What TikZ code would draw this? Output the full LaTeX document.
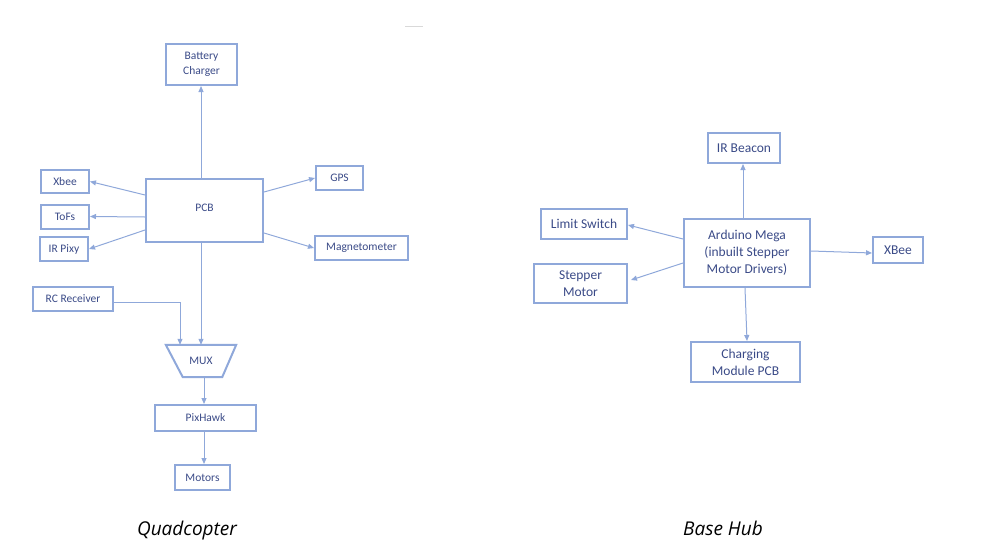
\documentclass[tikz,border=0pt]{standalone}
\usepackage{fontspec}
\setmainfont{Carlito}
\newfontfamily\capfont{Open Sans}
\usetikzlibrary{arrows.meta,calc}
\definecolor{boxc}{RGB}{143,168,218}
\definecolor{txtc}{RGB}{58,74,135}
\begin{document}
\begin{tikzpicture}[x=1pt,y=-1pt,
  box/.style={draw=boxc,line width=2pt,text=txtc,inner sep=1pt,align=center,font=\fontsize{11.5}{15}\selectfont},
  bbox/.style={box,font=\fontsize{13.5}{17}\selectfont},
  conn/.style={draw=boxc,line width=1pt,-{Triangle[length=6pt,width=5pt]}},
  captext/.style={font=\capfont\itshape\fontsize{19}{22}\selectfont,text=black,anchor=base}]
\useasboundingbox (0,0) rectangle (1000,554);
\draw[gray!30,line width=0.6pt] (405,26) -- (423,26);
% Quadcopter
\node[box,minimum width=71,minimum height=41] (bat) at (201.5,64.5) {Battery\\Charger};
\node[box,minimum width=117,minimum height=63] (pcb) at (204.5,210.5) {\raisebox{5pt}{PCB}};
\node[box,minimum width=48,minimum height=23] (xbee) at (65,181.5) {Xbee};
\node[box,minimum width=48,minimum height=24] (tofs) at (65,217) {ToFs};
\node[box,minimum width=48,minimum height=24] (pixy) at (64,249) {IR Pixy};
\node[box,minimum width=47,minimum height=24] (gps) at (339.5,178) {GPS};
\node[box,minimum width=93,minimum height=24] (mag) at (361.5,248) {Magnetometer};
\node[box,minimum width=80,minimum height=24] (rc) at (73,299) {RC Receiver};
\node[text=txtc,font=\fontsize{11.5}{15}\selectfont,minimum width=70,minimum height=32,inner sep=0pt] (mux) at (201,361) {MUX};
\draw[draw=boxc,line width=2pt,line join=miter] (mux.north west) -- (mux.north east) -- ([xshift=-14pt]mux.south east) -- ([xshift=17pt]mux.south west) -- cycle;
\node[box,minimum width=101,minimum height=26] (px) at (205.5,418) {PixHawk};
\node[box,minimum width=55,minimum height=25] (mot) at (202.5,477.5) {Motors};
\draw[conn] ([xshift=-3.5pt]pcb.north) -- ([xshift=-0.5pt]bat.south);
\draw[conn] ([yshift=15.5pt]pcb.west) -- (xbee.east);
\draw[conn] ([yshift=-6.5pt]pcb.west) -- ([yshift=0.5pt]tofs.east);
\draw[conn] ([yshift=-19.5pt]pcb.west) -- (pixy.east);
\draw[conn] ([yshift=18.5pt]pcb.east) -- (gps.west);
\draw[conn] ([yshift=-22.5pt]pcb.east) -- (mag.west);
\draw[conn] ([xshift=-3.5pt]pcb.south) -- ([xshift=0pt]mux.north);
\draw[conn] ([yshift=-3pt]rc.east) -| ([xshift=-21pt]mux.north);
\draw[conn] ([xshift=3pt]mux.south) -- ([xshift=-1.5pt]px.north);
\draw[conn] ([xshift=-1.5pt]px.south) -- ([xshift=1.5pt]mot.north);
% Base hub
\node[bbox,minimum width=72,minimum height=30] (ir) at (744,148) {IR Beacon};
\node[bbox,minimum width=86,minimum height=30] (lim) at (584,224) {Limit Switch};
\node[bbox,minimum width=126,minimum height=68] (ard) at (747,253) {Arduino Mega\\(inbuilt Stepper\\Motor Drivers)};
\node[bbox,minimum width=93,minimum height=39] (step) at (580.5,283.5) {Stepper\\Motor};
\node[bbox,minimum width=50,minimum height=26] (xb) at (898,250) {XBee};
\node[bbox,minimum width=109,minimum height=40] (chg) at (745.5,362) {Charging\\Module PCB};
\draw[conn] ([xshift=-4pt]ard.north) -- ([xshift=-1pt]ir.south);
\draw[conn] ([yshift=14pt]ard.west) -- ([yshift=-1pt]lim.east);
\draw[conn] ([yshift=-10pt]ard.west) -- ([xshift=3pt,yshift=3.5pt]step.east);
\draw[conn] ([yshift=2pt]ard.east) -- ([yshift=-3pt]xb.west);
\draw[conn] ([xshift=-2pt]ard.south) -- ([xshift=1.5pt]chg.north);
% captions
\node[captext] (qc) at (187,535.5) {Quadcopter};
\node[captext] (bh) at (723,535.5) {Base Hub};
\end{tikzpicture}
\end{document}
